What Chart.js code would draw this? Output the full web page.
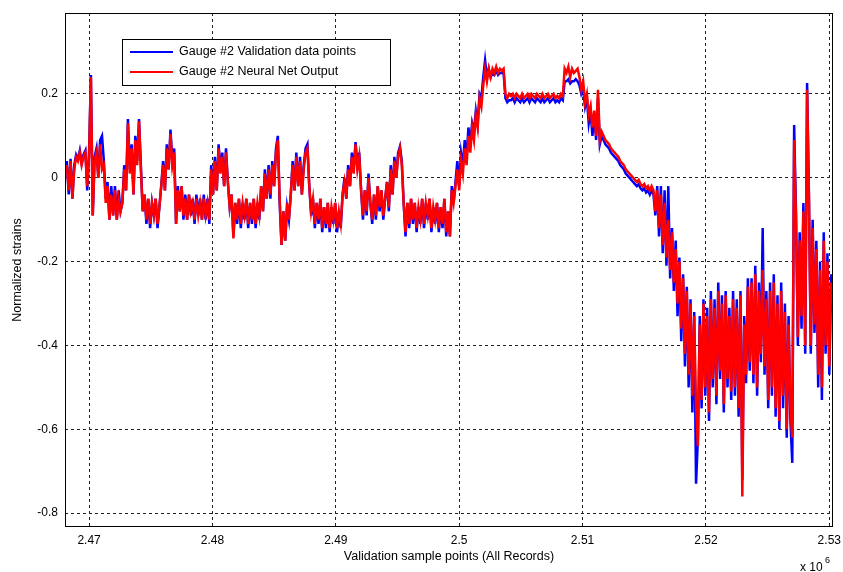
<!DOCTYPE html>
<html>
<head>
<meta charset="utf-8">
<script src="https://cdn.jsdelivr.net/npm/chart.js@4"></script>
<style>
  html, body { margin: 0; padding: 0; background: #fff; }
  #wrap { width: 843px; height: 572px; }
</style>
</head>
<body>
<div id="wrap"><canvas id="myChart" width="843" height="572"></canvas></div>
<script>
// sample index of first point and spacing between points
var xStart = 2468200;
var xStep = 150;

var seriesLabels = ['Gauge #2 Validation data points', 'Gauge #2 Neural Net Output'];

// Gauge #2 validation data (blue)
var validationData = [
    0.04, -0.04, 0.045, -0.05, 0.03, 0.055, 0.045, 0.065, 0.035, 0.055,
    0.065, -0.03, 0.06, 0.245, -0.09, 0.05, 0.07, 0.00, 0.09, 0.10,
    0.04, -0.05, -0.01, -0.10, -0.02, -0.09, -0.02, -0.10, -0.03, -0.08,
    -0.06, 0.03, -0.03, 0.14, 0.02, 0.08, -0.04, 0.10, 0.04, 0.14,
    0.03, -0.08, -0.04, -0.11, -0.05, -0.12, -0.06, -0.09, -0.05, -0.12,
    -0.07, -0.02, 0.04, -0.03, 0.08, 0.02, 0.115, 0.04, 0.07, -0.11,
    -0.02, -0.08, -0.02, -0.10, -0.04, -0.10, -0.04, -0.09, -0.05, -0.11,
    -0.04, -0.09, -0.05, -0.10, -0.04, -0.10, -0.05, -0.11, 0.03, -0.04,
    0.05, -0.03, 0.08, 0.02, 0.06, -0.02, 0.07, -0.01, -0.07, -0.04,
    -0.14, -0.06, -0.11, -0.05, -0.12, -0.06, -0.10, -0.05, -0.12, -0.06,
    -0.11, -0.05, -0.12, -0.06, -0.10, -0.02, -0.08, 0.02, -0.05, 0.03,
    -0.05, 0.04, -0.02, 0.07, 0.10, -0.06, -0.16, -0.08, -0.15, -0.07,
    -0.10, -0.04, 0.04, -0.03, 0.06, -0.02, 0.05, -0.04, 0.03, 0.07,
    0.08, -0.02, -0.09, -0.05, -0.12, -0.06, -0.11, -0.05, -0.13, -0.07,
    -0.12, -0.06, -0.13, -0.07, -0.11, -0.06, -0.13, -0.08, -0.12, -0.04,
    0.00, -0.05, 0.03, -0.02, 0.06, 0.02, 0.085, 0.03, 0.06, -0.03,
    -0.10, -0.03, -0.09, 0.01, -0.06, -0.11, -0.04, -0.10, -0.02, -0.08,
    -0.03, -0.10, -0.05, -0.01, -0.08, 0.03, -0.04, 0.05, 0.00, 0.06,
    0.075, 0.04, -0.06, -0.14, -0.06, -0.12, -0.05, -0.11, -0.06, -0.13,
    -0.07, -0.11, -0.05, -0.12, -0.06, -0.10, -0.05, -0.13, -0.07, -0.11,
    -0.06, -0.13, -0.07, -0.12, -0.05, -0.14, -0.08, -0.14, -0.02, -0.06,
    -0.01, 0.04, -0.02, 0.06, 0.03, 0.09, 0.05, 0.12, 0.08, 0.13,
    0.11, 0.16, 0.13, 0.20, 0.19, 0.24, 0.28, 0.24, 0.26, 0.24,
    0.25, 0.245, 0.255, 0.245, 0.25, 0.25, 0.25, 0.19, 0.18, 0.185,
    0.185, 0.19, 0.18, 0.19, 0.185, 0.18, 0.19, 0.18, 0.185, 0.19,
    0.18, 0.19, 0.185, 0.18, 0.19, 0.185, 0.18, 0.19, 0.18, 0.185,
    0.19, 0.18, 0.185, 0.19, 0.18, 0.185, 0.18, 0.19, 0.185, 0.23,
    0.23, 0.235, 0.225, 0.23, 0.23, 0.235, 0.23, 0.22, 0.20, 0.21,
    0.17, 0.19, 0.13, 0.16, 0.10, 0.15, 0.09, 0.19, 0.08, 0.10,
    0.09, 0.08, 0.075, 0.07, 0.06, 0.055, 0.05, 0.045, 0.04, 0.03,
    0.025, 0.02, 0.01, 0.005, 0.00, -0.005, -0.01, -0.015, -0.02, -0.015,
    -0.025, -0.03, -0.025, -0.035, -0.03, -0.04, -0.03, -0.04, -0.09, -0.02,
    -0.14, -0.02, -0.18, -0.03, -0.21, -0.02, -0.24, -0.12, -0.27, -0.15,
    -0.33, -0.19, -0.39, -0.23, -0.45, -0.26, -0.50, -0.29, -0.56, -0.32,
    -0.73, -0.62, -0.33, -0.55, -0.29, -0.52, -0.31, -0.58, -0.27, -0.50,
    -0.29, -0.54, -0.25, -0.48, -0.28, -0.56, -0.27, -0.50, -0.31, -0.53,
    -0.27, -0.52, -0.29, -0.57, -0.27, -0.72, -0.33, -0.49, -0.24, -0.46,
    -0.24, -0.49, -0.21, -0.52, -0.25, -0.44, -0.12, -0.47, -0.27, -0.55,
    -0.25, -0.52, -0.23, -0.57, -0.28, -0.60, -0.25, -0.55, -0.30, -0.62,
    -0.33, -0.58, -0.68, 0.126, -0.08, -0.40, -0.13, -0.36, -0.06, -0.42,
    0.226, -0.04, -0.42, -0.10, -0.37, -0.15, -0.50, -0.20, -0.53, -0.13,
    -0.42, -0.18, -0.47, -0.23, -0.32
];

// Gauge #2 neural net output (red)
var networkOutput = [
    0.03, -0.03, 0.04, -0.05, 0.02, 0.05, 0.04, 0.06, 0.03, 0.05,
    0.06, -0.02, 0.05, 0.24, -0.09, 0.04, 0.06, 0.00, 0.08, 0.02,
    0.03, -0.06, -0.02, -0.10, -0.04, -0.09, -0.03, -0.10, -0.05, -0.08,
    -0.06, 0.02, -0.03, 0.13, 0.01, 0.07, -0.04, 0.09, 0.03, 0.135,
    0.02, -0.08, -0.04, -0.10, -0.05, -0.11, -0.06, -0.09, -0.05, -0.11,
    -0.07, -0.02, 0.03, -0.03, 0.07, 0.02, 0.105, 0.03, 0.06, -0.11,
    -0.03, -0.08, -0.02, -0.09, -0.05, -0.10, -0.04, -0.08, -0.06, -0.10,
    -0.05, -0.09, -0.06, -0.10, -0.05, -0.09, -0.06, -0.10, 0.02, -0.04,
    0.04, -0.03, 0.07, 0.01, 0.05, -0.02, 0.06, -0.01, -0.07, -0.04,
    -0.145, -0.06, -0.10, -0.05, -0.11, -0.06, -0.09, -0.05, -0.11, -0.06,
    -0.10, -0.05, -0.11, -0.06, -0.09, -0.02, -0.08, 0.01, -0.05, 0.02,
    -0.04, 0.03, -0.02, 0.06, 0.09, -0.05, -0.16, -0.08, -0.15, -0.06,
    -0.10, -0.04, 0.03, -0.03, 0.05, -0.02, 0.04, -0.04, 0.02, 0.06,
    0.07, -0.02, -0.08, -0.05, -0.11, -0.06, -0.10, -0.05, -0.12, -0.07,
    -0.11, -0.06, -0.12, -0.07, -0.10, -0.06, -0.12, -0.08, -0.11, -0.04,
    -0.01, -0.05, 0.02, -0.02, 0.05, 0.01, 0.08, 0.02, 0.05, -0.03,
    -0.09, -0.03, -0.08, 0.00, -0.06, -0.10, -0.04, -0.09, -0.02, -0.07,
    -0.03, -0.09, -0.05, -0.01, -0.07, 0.02, -0.04, 0.04, 0.00, 0.05,
    0.07, 0.03, -0.06, -0.13, -0.06, -0.11, -0.05, -0.10, -0.06, -0.12,
    -0.07, -0.10, -0.05, -0.11, -0.06, -0.09, -0.05, -0.12, -0.07, -0.10,
    -0.06, -0.12, -0.07, -0.11, -0.05, -0.13, -0.08, -0.14, -0.03, -0.06,
    -0.02, 0.02, -0.03, 0.04, 0.01, 0.07, 0.03, 0.10, 0.06, 0.12,
    0.09, 0.15, 0.12, 0.19, 0.17, 0.22, 0.26, 0.23, 0.26, 0.24,
    0.26, 0.25, 0.265, 0.25, 0.26, 0.255, 0.26, 0.20, 0.19, 0.20,
    0.195, 0.20, 0.19, 0.20, 0.195, 0.19, 0.20, 0.19, 0.195, 0.20,
    0.19, 0.20, 0.195, 0.19, 0.20, 0.195, 0.19, 0.20, 0.19, 0.195,
    0.20, 0.19, 0.195, 0.20, 0.19, 0.195, 0.19, 0.20, 0.195, 0.26,
    0.25, 0.265, 0.24, 0.26, 0.25, 0.255, 0.26, 0.24, 0.21, 0.23,
    0.18, 0.20, 0.15, 0.17, 0.12, 0.16, 0.10, 0.21, 0.09, 0.11,
    0.10, 0.09, 0.085, 0.08, 0.07, 0.065, 0.06, 0.055, 0.05, 0.04,
    0.035, 0.03, 0.02, 0.015, 0.01, 0.005, 0.00, -0.005, -0.01, -0.005,
    -0.015, -0.02, -0.015, -0.025, -0.02, -0.03, -0.02, -0.03, -0.08, -0.03,
    -0.12, -0.04, -0.16, -0.06, -0.19, -0.10, -0.22, -0.13, -0.25, -0.17,
    -0.30, -0.20, -0.36, -0.24, -0.42, -0.27, -0.47, -0.30, -0.52, -0.33,
    -0.55, -0.64, -0.35, -0.53, -0.30, -0.50, -0.33, -0.56, -0.29, -0.48,
    -0.31, -0.52, -0.27, -0.46, -0.30, -0.54, -0.28, -0.48, -0.33, -0.51,
    -0.29, -0.50, -0.31, -0.55, -0.28, -0.76, -0.35, -0.47, -0.26, -0.44,
    -0.25, -0.47, -0.23, -0.50, -0.27, -0.42, -0.22, -0.45, -0.29, -0.53,
    -0.27, -0.50, -0.25, -0.55, -0.30, -0.58, -0.27, -0.52, -0.32, -0.60,
    -0.35, -0.55, -0.62, 0.09, -0.10, -0.38, -0.15, -0.33, -0.08, -0.40,
    0.21, -0.05, -0.40, -0.12, -0.35, -0.17, -0.47, -0.22, -0.50, -0.15,
    -0.40, -0.20, -0.45, -0.25, -0.30
];

var xTicks = [2470000, 2480000, 2490000, 2500000, 2510000, 2520000, 2530000];
var xTickLabels = ['2.47', '2.48', '2.49', '2.5', '2.51', '2.52', '2.53'];
var yTicks = [0.2, 0, -0.2, -0.4, -0.6, -0.8];
var yTickLabels = ['0.2', '0', '-0.2', '-0.4', '-0.6', '-0.8'];

function toPoints(values) {
    var pts = [];
    for (var i = 0; i < values.length; i++) {
        pts.push({x: xStart + i * xStep, y: values[i]});
    }
    return pts;
}

var FONT = 'Liberation Sans, Arial, sans-serif';
Chart.defaults.font.family = FONT;
Chart.defaults.font.size = 12;
Chart.defaults.color = '#000';

// box round the axes, legend box and the x10^6 exponent
var matlabExtras = {
    id: 'matlabExtras',
    afterDraw: function (chart) {
        var ctx = chart.ctx;
        var a = chart.chartArea;
        ctx.save();
        ctx.strokeStyle = '#000';
        ctx.lineWidth = 1;
        ctx.strokeRect(a.left + 0.5, a.top + 0.5, a.right - a.left - 1, a.bottom - a.top - 1);

        // legend
        var lx = 122, ly = 39, lw = 268, lh = 46;
        ctx.fillStyle = '#fff';
        ctx.fillRect(lx, ly, lw, lh);
        ctx.strokeRect(lx + 0.5, ly + 0.5, lw, lh);
        var order = [1, 0];
        ctx.font = '12.5px ' + FONT;
        ctx.textBaseline = 'middle';
        for (var k = 0; k < 2; k++) {
            var ds = chart.data.datasets[order[k]];
            var yy = ly + 13 + k * 20;
            ctx.strokeStyle = ds.borderColor;
            ctx.lineWidth = 2;
            ctx.beginPath();
            ctx.moveTo(130, yy);
            ctx.lineTo(173, yy);
            ctx.stroke();
            ctx.fillStyle = '#000';
            ctx.fillText(ds.label, 179, yy);
        }

        // exponent
        ctx.fillStyle = '#000';
        ctx.textBaseline = 'alphabetic';
        ctx.font = '12px ' + FONT;
        ctx.fillText('x 10', 800, 571);
        ctx.font = '9px ' + FONT;
        ctx.fillText('6', 825, 563);
        ctx.restore();
    }
};

var ctx = document.getElementById('myChart').getContext('2d');
var myChart = new Chart(ctx, {
    type: 'line',
    data: {
        datasets: [{
            label: seriesLabels[1],
            data: toPoints(networkOutput),
            borderColor: '#ff0000',
            borderWidth: 2.5,
            pointRadius: 0,
            tension: 0,
            order: 0
        }, {
            label: seriesLabels[0],
            data: toPoints(validationData),
            borderColor: '#0000ff',
            borderWidth: 2.5,
            pointRadius: 0,
            tension: 0,
            order: 1
        }]
    },
    options: {
        responsive: false,
        animation: false,
        layout: {padding: {top: 13, right: 10, left: 0, bottom: 0}},
        plugins: {legend: {display: false}, tooltip: {enabled: false}},
        scales: {
            x: {
                type: 'linear',
                min: 2468050,
                max: 2530300,
                afterBuildTicks: function (scale) {
                    scale.ticks = xTicks.map(function (v) { return {value: v}; });
                },
                afterFit: function (scale) {
                    scale.height = 45;
                    scale.paddingLeft = 0;
                    scale.paddingRight = 0;
                },
                ticks: {
                    autoSkip: false,
                    maxRotation: 0,
                    padding: 6,
                    font: {size: 12},
                    callback: function (v, i) { return xTickLabels[i]; }
                },
                grid: {color: '#222', lineWidth: 1, drawTicks: false},
                border: {display: false, dash: [3, 3]},
                title: {
                    display: true,
                    text: 'Validation sample points (All Records)',
                    font: {size: 12.5},
                    padding: {top: 0, bottom: 8}
                }
            },
            y: {
                min: -0.833,
                max: 0.393,
                afterBuildTicks: function (scale) {
                    scale.ticks = yTicks.map(function (v) { return {value: v}; });
                },
                afterFit: function (scale) {
                    scale.width = 65;
                    scale.paddingTop = 0;
                    scale.paddingBottom = 0;
                },
                ticks: {
                    autoSkip: false,
                    padding: 7,
                    font: {size: 12},
                    callback: function (v, i) { return yTickLabels[i]; }
                },
                grid: {color: '#222', lineWidth: 1, drawTicks: false},
                border: {display: false, dash: [3, 3]},
                title: {
                    display: true,
                    text: 'Normalized strains',
                    font: {size: 12.5},
                    padding: {top: 10, bottom: 0}
                }
            }
        }
    },
    plugins: [matlabExtras]
});
</script>
</body>
</html>
